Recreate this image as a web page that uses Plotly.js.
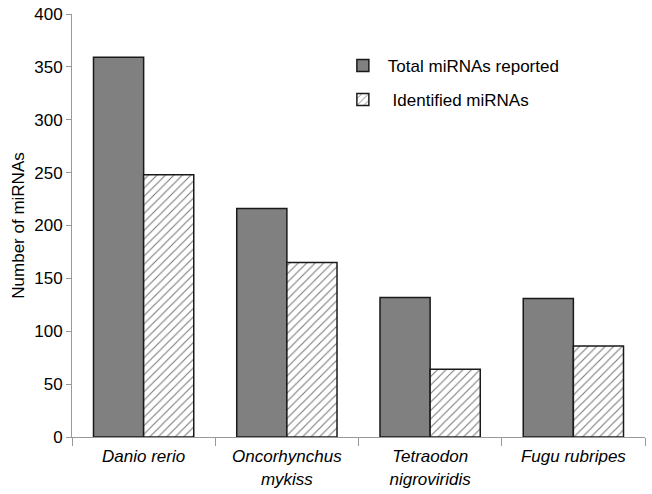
<!DOCTYPE html>
<html><head><meta charset="utf-8">
<script src="https://cdn.plot.ly/plotly-3.0.1.min.js"></script>
<style>html,body{margin:0;padding:0;background:#fff}#chart{width:652px;height:494px}</style>
</head><body><div id="chart"></div>
<script>
var species = ["Danio rerio", "Oncorhynchus<br>mykiss", "Tetraodon<br>nigroviridis", "Fugu rubripes"];
var totalReported = [359, 216, 132, 131];
var identified = [248, 165, 64, 86];
var seriesNames = ["Total miRNAs reported", " Identified miRNAs"];
var yTicks = [0, 50, 100, 150, 200, 250, 300, 350, 400];

var font = {family: "Liberation Sans, Arial, sans-serif", size: 17, color: "#000"};
var traces = [
  {type: "bar", x: species, y: totalReported, name: seriesNames[0], legendgroup: "a",
   marker: {color: "#808080", line: {color: "#1a1a1a", width: 1.5}}},
  {type: "bar", x: species, y: identified, name: seriesNames[1], legendgroup: "b",
   marker: {color: "#ffffff", line: {color: "#1a1a1a", width: 1.5},
            pattern: {shape: "/", size: 6, solidity: 0.18, fgcolor: "#7a7a7a", bgcolor: "#ffffff"}}}
];
var layout = {
  width: 652, height: 494,
  margin: {l: 72, r: 7, t: 14, b: 57},
  paper_bgcolor: "#fff", plot_bgcolor: "#fff",
  font: font,
  barmode: "group", bargap: 0.3, bargroupgap: 0,
  showlegend: true,
  legend: {x: 0.464, y: 0.92, xanchor: "left", yanchor: "top", font: {family: font.family, size: 17},
           tracegroupgap: 9, itemwidth: 40, bgcolor: "rgba(0,0,0,0)"},
  xaxis: {type: "category", showline: true, linecolor: "#999", linewidth: 1,
          ticks: "outside", tickson: "boundaries", ticklen: 8, tickcolor: "#999", ticklabelstandoff: 4,
          tickfont: {family: font.family, size: 17, style: "italic"}, showgrid: false, zeroline: false},
  yaxis: {range: [0, 400], tickvals: yTicks, showline: true, linecolor: "#999", linewidth: 1,
          ticks: "outside", ticklen: 5, tickcolor: "#999", showgrid: false, zeroline: false,
          tickfont: {family: font.family, size: 17},
          title: {text: "Number of miRNAs", font: {family: font.family, size: 17}, standoff: 5}}
};
Plotly.newPlot("chart", traces, layout, {displayModeBar: false, staticPlot: true});
</script></body></html>
